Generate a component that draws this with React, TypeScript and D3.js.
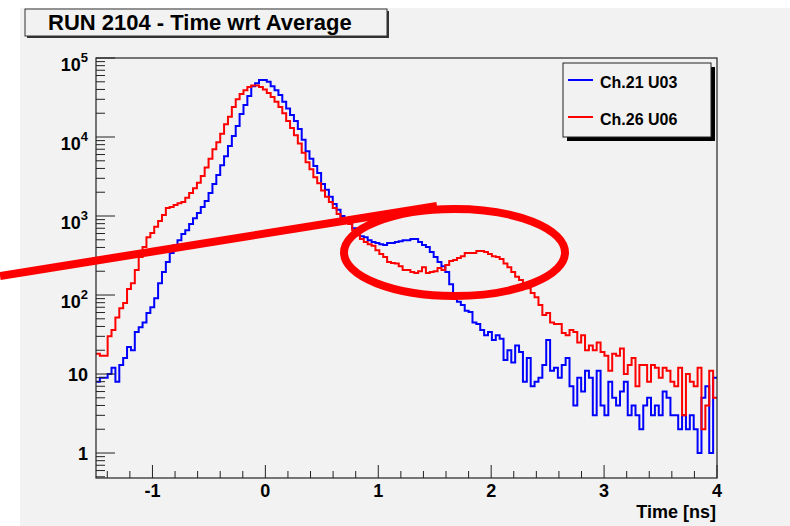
import React from 'react';
import * as d3 from 'd3';

// ---------- data ----------
const TITLE = 'RUN 2104 - Time wrt Average';
const X_TITLE = 'Time [ns]';
const HIST_MIN = -1.5; // ns, histogram lower edge
const HIST_MAX = 4; // ns, histogram upper edge
const SERIES_NAMES = ['Ch.21 U03', 'Ch.26 U06'];

// counts per bin (160 bins from -1.5 to 4 ns)
const ch21U03 = [
  8, 9, 9, 10, 12, 8, 13, 16, 22, 20,
  34, 39, 45, 59, 70, 91, 141, 195, 262, 340,
  430, 495, 590, 660, 790, 940, 1090, 1300, 1550, 1950,
  2550, 3300, 4400, 5700, 7700, 10300, 13800, 19600, 25400, 33000,
  44000, 48000, 52500, 52500, 50000, 44000, 39000, 34000, 28000, 23000,
  19000, 16000, 12600, 9200, 6600, 5300, 4300, 3500, 2550, 2150,
  1750, 1420, 1200, 1000, 890, 810, 700, 610, 555, 540,
  495, 470, 455, 440, 430, 455, 455, 470, 480, 495,
  495, 510, 510, 470, 430, 405, 350, 303, 262, 232,
  195, 137, 106, 82, 75, 63, 61, 45, 43, 36,
  31, 34, 27, 31, 28, 15, 20, 14, 23, 19,
  8, 16, 7, 8, 9, 13, 27, 11, 12, 9,
  13, 16, 7, 4, 9, 6, 11, 9, 3, 11,
  4, 3, 8, 5, 4, 6, 8, 3, 4, 3,
  2, 4, 5, 3, 4, 3, 6, 5, 3, 3,
  2, 3, 2, 3, 2, 1, 5, 7, 1, 9,
];

const ch26U06 = [
  18, 17, 17, 30, 36, 52, 68, 79, 119, 141,
  207, 303, 404, 540, 610, 730, 866, 1030, 1260, 1300,
  1380, 1450, 1500, 1700, 1950, 2250, 2630, 3200, 4100, 5300,
  7000, 8600, 11000, 14500, 18000, 24000, 30000, 35000, 39000, 43000,
  45000, 45000, 43000, 40000, 36000, 32000, 28000, 24000, 20000, 16000,
  13000, 10500, 8300, 6300, 4800, 3900, 3100, 2600, 2100, 1750,
  1500, 1260, 1060, 940, 890, 790, 660, 570, 510, 470,
  440, 420, 370, 330, 303, 262, 255, 250, 232, 207,
  207, 195, 190, 200, 225, 190, 195, 200, 220, 207,
  240, 270, 277, 295, 310, 340, 340, 340, 360, 360,
  350, 330, 310, 303, 285, 250, 225, 195, 170, 155,
  141, 122, 106, 94, 75, 56, 59, 45, 43, 43,
  33, 31, 36, 34, 25, 31, 20, 23, 20, 25,
  19, 17, 11, 18, 17, 21, 10, 13, 16, 7,
  13, 13, 8, 13, 12, 9, 12, 11, 8, 7,
  12, 3, 10, 8, 7, 12, 2, 4, 11, 5,
];

const X_TICKS = [-1, 0, 1, 2, 3, 4];
const Y_TICK_EXPONENTS = [0, 1, 2, 3, 4, 5];

// ---------- component ----------
const FONT = '"Liberation Sans", Arial, Helvetica, sans-serif';
const BG = '#f2f2f2';

export default function App() {
  const W = 790;
  const H = 526;
  const left = 96;
  const right = 717;
  const top = 58;
  const bottom = 478;

  const x = d3.scaleLinear().domain([HIST_MIN, HIST_MAX]).range([left, right]);
  const y = d3.scaleLog().domain([0.483, 1e5]).range([bottom, top]);

  const stepPath = (vals: number[]) => {
    const n = vals.length;
    const w = (HIST_MAX - HIST_MIN) / n;
    const pts: [number, number][] = vals.map((v, i) => [HIST_MIN + i * w, v]);
    pts.push([HIST_MAX, vals[n - 1]]);
    return d3
      .line<[number, number]>()
      .x((d) => x(d[0]))
      .y((d) => y(Math.max(d[1], 0.3)))
      .curve(d3.curveStepAfter)(pts) as string;
  };

  // x minor ticks every 0.2
  const xMinor: number[] = [];
  for (let k = -7; k <= 20; k++) {
    if (k % 5 !== 0) xMinor.push(k / 5);
  }
  // y minor ticks
  const yMinor: number[] = [];
  for (let e = -1; e <= 4; e++) {
    for (let m = 2; m <= 9; m++) {
      const v = m * Math.pow(10, e);
      if (v >= 0.483 && v <= 1e5) yMinor.push(v);
    }
  }

  return (
    <svg
      width={W}
      height={H}
      style={{ position: 'absolute', left: 0, top: 0, display: 'block' }}
      fontFamily={FONT}
    >
      <defs>
        <clipPath id="frameClip">
          <rect x={left} y={top} width={right - left} height={bottom - top} />
        </clipPath>
      </defs>
      <rect x={0} y={0} width={W} height={H} fill="#ffffff" />
      <rect x={20} y={8} width={W - 20} height={H - 8} fill={BG} />

      {/* title box */}
      <rect x={27} y={11} width={362} height={27} fill="#333" />
      <rect x={25} y={9} width={362} height={27} fill={BG} stroke="#333" strokeWidth={1} />
      <text x={48} y={29.5} fontSize={22} fontWeight="bold" fill="#000">
        {TITLE}
      </text>

      {/* histograms */}
      <g clipPath="url(#frameClip)" fill="none" strokeWidth={2}>
        <path d={stepPath(ch21U03)} stroke="#0000ff" />
        <path d={stepPath(ch26U06)} stroke="#ff0000" />
      </g>

      {/* frame */}
      <rect x={left} y={top} width={right - left} height={bottom - top} fill="none" stroke="#222" strokeWidth={1.2} />

      {/* x ticks */}
      {X_TICKS.map((t) => (
        <g key={'xt' + t}>
          <line x1={x(t)} x2={x(t)} y1={bottom} y2={bottom - 13} stroke="#222" strokeWidth={1} />
          <text x={x(t)} y={497} fontSize={18} fontWeight="bold" textAnchor="middle">
            {t}
          </text>
        </g>
      ))}
      {xMinor.map((t) => (
        <line key={'xm' + t} x1={x(t)} x2={x(t)} y1={bottom} y2={bottom - 7} stroke="#222" strokeWidth={1} />
      ))}
      <text x={716} y={518} fontSize={18} fontWeight="bold" textAnchor="end">
        {X_TITLE}
      </text>

      {/* y ticks */}
      {Y_TICK_EXPONENTS.map((e) => {
        const v = Math.pow(10, e);
        const ty = y(v);
        return (
          <g key={'yt' + e}>
            <line x1={left} x2={left + 19} y1={ty} y2={ty} stroke="#222" strokeWidth={1} />
            {e <= 1 ? (
              <text x={88} y={ty + 6.5} fontSize={18} fontWeight="bold" textAnchor="end">
                {e === 0 ? '1' : '10'}
              </text>
            ) : (
              <text x={88} y={ty + 12.5} fontSize={18} fontWeight="bold" textAnchor="end">
                10
                <tspan fontSize={13} dy={-8.5}>
                  {e}
                </tspan>
              </text>
            )}
          </g>
        );
      })}
      {yMinor.map((v) => (
        <line key={'ym' + v} x1={left} x2={left + 9} y1={y(v)} y2={y(v)} stroke="#222" strokeWidth={1} />
      ))}

      {/* legend */}
      <rect x={567} y={67} width={148} height={74} fill="#000" />
      <rect x={563} y={63} width={148} height={74} fill={BG} stroke="#222" strokeWidth={1} />
      <line x1={568} x2={593} y1={80} y2={80} stroke="#0000ff" strokeWidth={2} />
      <text x={600} y={87.5} fontSize={16} fontWeight="bold">
        {SERIES_NAMES[0]}
      </text>
      <line x1={568} x2={593} y1={117} y2={117} stroke="#ff0000" strokeWidth={2} />
      <text x={600} y={124.5} fontSize={16} fontWeight="bold">
        {SERIES_NAMES[1]}
      </text>

      {/* hand-drawn annotation */}
      <line x1={0} y1={276} x2={437} y2={206} stroke="#ff0000" strokeWidth={8} />
      <ellipse cx={454.5} cy={252.5} rx={110.5} ry={43.5} fill="none" stroke="#ff0000" strokeWidth={8} />
    </svg>
  );
}
